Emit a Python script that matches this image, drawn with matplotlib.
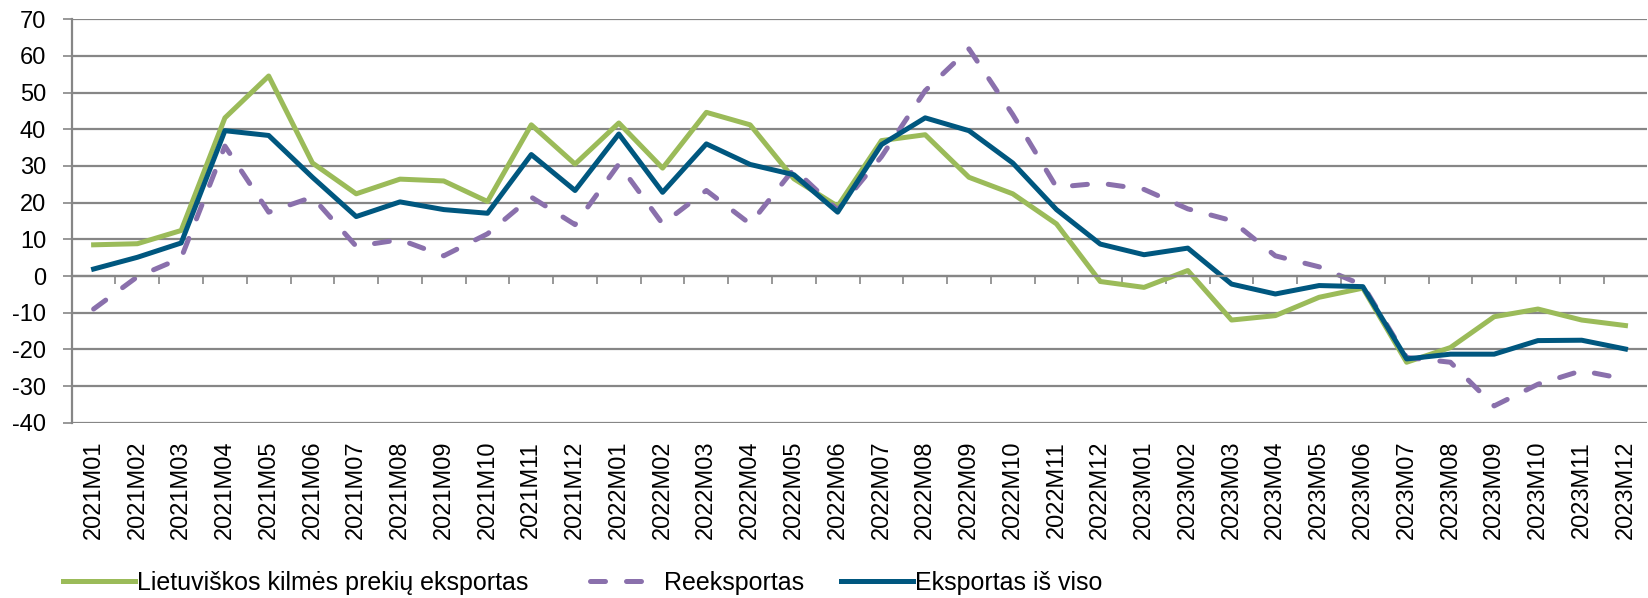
import numpy as np
import matplotlib
matplotlib.use("Agg")
import matplotlib.pyplot as plt
from matplotlib.ticker import FixedLocator, FuncFormatter

months = []
for yr in (2021, 2022, 2023):
    for m in range(1, 13):
        months.append(f"{yr}M{m:02d}")

# Lietuviškos kilmės prekių eksportas
lt_origin = [8.5, 8.8, 12.4, 43.1, 54.5, 30.8, 22.4, 26.4, 25.9, 20.3, 41.2, 30.5,
             41.7, 29.4, 44.6, 41.2, 26.5, 19.0, 36.9, 38.5, 26.9, 22.4, 14.2, -1.5,
             -3.1, 1.5, -12.0, -10.8, -5.8, -3.3, -23.5, -19.5, -11.1, -9.0, -12.0, -13.5]
# Reeksportas
reexport = [-9.0, -0.2, 4.9, 35.4, 17.4, 21.5, 8.1, 9.9, 5.5, 11.5, 21.5, 14.0,
            30.5, 14.2, 23.3, 14.2, 29.2, 18.0, 32.5, 50.5, 61.9, 44.0, 24.2, 25.3,
            23.6, 18.3, 15.1, 5.5, 2.5, -2.5, -22.2, -23.5, -35.4, -29.5, -25.8, -28.1]
# Eksportas iš viso
total = [1.9, 5.1, 9.0, 39.6, 38.3, 26.9, 16.2, 20.2, 18.1, 17.1, 33.1, 23.3,
         38.7, 22.8, 36.0, 30.4, 27.6, 17.4, 35.8, 43.1, 39.6, 30.8, 18.1, 8.7,
         5.8, 7.6, -2.2, -4.9, -2.6, -2.9, -22.6, -21.3, -21.3, -17.6, -17.5, -19.9]

labels = ["Lietuviškos kilmės prekių eksportas", "Reeksportas", "Eksportas iš viso"]
colors = ["#9bbb59", "#8a70ac", "#00577f"]

plt.rcParams['font.family'] = ['Liberation Sans', 'DejaVu Sans']

fig = plt.figure(figsize=(16.49, 5.98), dpi=100)
ax = fig.add_axes([0.0435, 0.293, 0.9555, 0.675])

x = np.arange(len(months))
lw = 3.6
l1, = ax.plot(x, lt_origin, color=colors[0], lw=lw, label=labels[0])
l2, = ax.plot(x, reexport, color=colors[1], lw=lw, label=labels[1], dashes=(3.0, 4.2),
              dash_capstyle='round')
l3, = ax.plot(x, total, color=colors[2], lw=lw, label=labels[2])

ax.set_xlim(-0.5, len(months) - 0.5)
ax.set_ylim(-40, 70)
ax.set_yticks(np.arange(-40, 71, 10))
ax.yaxis.set_major_formatter(FuncFormatter(lambda v, p: f"{int(v)}"))
ax.tick_params(axis='y', labelsize=17, length=6.5, width=1.2, color='#868686', pad=12)
ax.grid(axis='y', color='#868686', lw=1.6)
ax.set_axisbelow(True)

for s in ('top', 'right'):
    ax.spines[s].set_visible(False)
ax.spines['left'].set_color('#868686')
ax.spines['left'].set_linewidth(1.6)
# category axis crosses at zero, labels stay at the bottom
ax.spines['bottom'].set_position(('data', 0))
ax.spines['bottom'].set_color('#868686')
ax.spines['bottom'].set_linewidth(1.6)
ax.xaxis.set_major_locator(FixedLocator(np.arange(0.5, len(months) - 0.5, 1)))
ax.tick_params(axis='x', length=6, width=1.2, color='#868686', labelbottom=False)

sec = ax.secondary_xaxis(0)
sec.set_xticks(x)
sec.set_xticklabels(months, rotation=90, fontsize=17)
sec.tick_params(length=0, pad=13)
sec.spines['bottom'].set_visible(False)

# one legend entry each, so the gaps follow the original
for line, lab, x0 in zip([l1, l2, l3], labels, [63, 590, 841]):
    leg = fig.legend([line], [lab], loc='center left',
                     bbox_to_anchor=(x0 / 1649, 1 - 583 / 598), frameon=False,
                     fontsize=18, handlelength=2.9, handletextpad=0.08,
                     borderpad=0, borderaxespad=0)

fig.savefig("out.png", dpi=100)
